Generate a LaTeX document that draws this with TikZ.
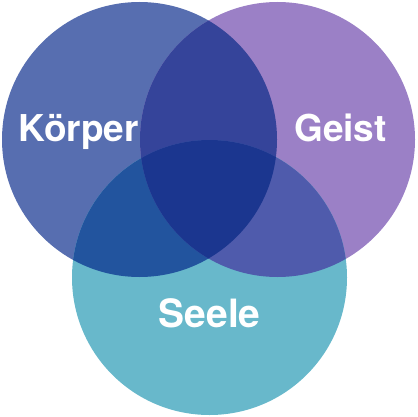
\documentclass[tikz,border=0pt]{standalone}
\usepackage{fontspec}
\setmainfont{TeX Gyre Heros}
\definecolor{ck}{RGB}{87,110,176}
\definecolor{cg}{RGB}{155,128,198}
\definecolor{cs}{RGB}{104,184,203}
\definecolor{ckg}{RGB}{53,68,154}
\definecolor{cks}{RGB}{34,84,158}
\definecolor{cgs}{RGB}{79,91,172}
\definecolor{ckgs}{RGB}{27,54,143}
\begin{document}
\begin{tikzpicture}[x=1pt,y=-1pt,
  lbl/.style={text=white,font=\fontsize{37}{40}\selectfont\bfseries,anchor=base,inner sep=0pt}]
\useasboundingbox (0,0) rectangle (417,417);
\def\R{137.5}
\coordinate (k) at (139.5,139.5);
\coordinate (g) at (277.5,139.5);
\coordinate (s) at (209.5,277.5);
\fill[ck] (k) circle[radius=\R];
\fill[cg] (g) circle[radius=\R];
\fill[cs] (s) circle[radius=\R];
\begin{scope}
  \clip (k) circle[radius=\R];
  \fill[ckg] (g) circle[radius=\R];
  \fill[cks] (s) circle[radius=\R];
\end{scope}
\begin{scope}
  \clip (g) circle[radius=\R];
  \fill[cgs] (s) circle[radius=\R];
\end{scope}
\begin{scope}
  \clip (k) circle[radius=\R];
  \clip (g) circle[radius=\R];
  \fill[ckgs] (s) circle[radius=\R];
\end{scope}
\node[lbl] (lk) at (78.7,141) {Körper};
\node[lbl] (lg) at (340.5,141) {Geist};
\node[lbl,font=\fontsize{39}{42}\selectfont\bfseries] (ls) at (209.7,327.7) {Seele};
\end{tikzpicture}
\end{document}
